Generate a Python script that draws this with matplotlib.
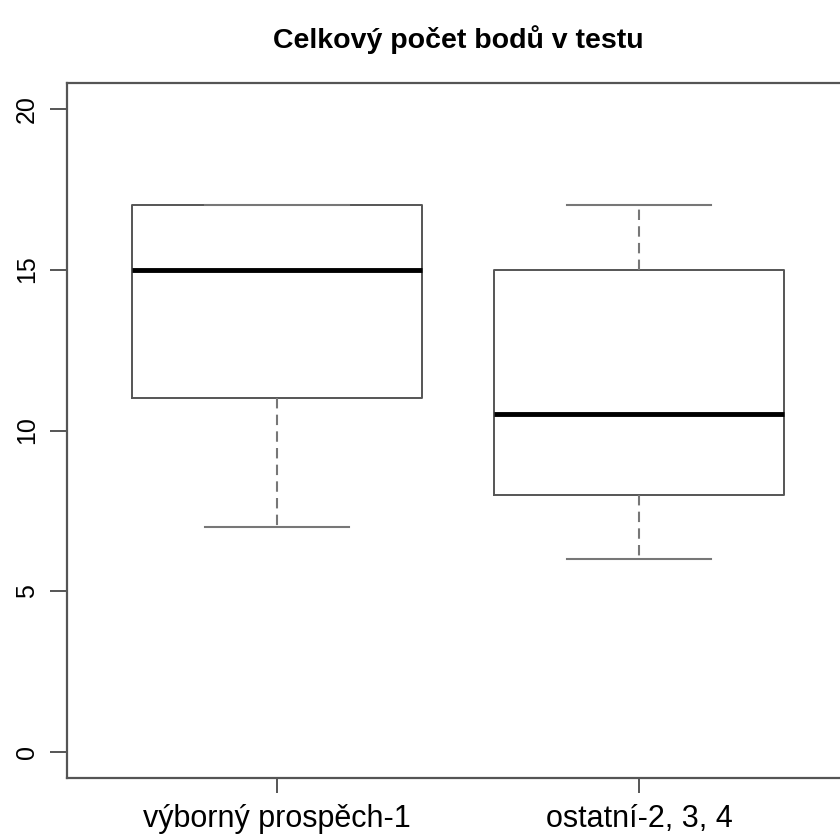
import matplotlib
matplotlib.use('Agg')
import matplotlib.pyplot as plt

plt.rcParams['font.family'] = ['Liberation Sans', 'DejaVu Sans']

# hodnoty
skupiny = ['výborný prospěch-1', 'ostatní-2, 3, 4']
dolni_vous = [7, 6]
q1 = [11, 8]
median = [15, 10.5]
q3 = [17, 15]
horni_vous = [17, 17]
y_ticks = [0, 5, 10, 15, 20]

stats = []
for i, nazev in enumerate(skupiny):
    stats.append({'label': nazev, 'whislo': dolni_vous[i], 'q1': q1[i],
                  'med': median[i], 'q3': q3[i], 'whishi': horni_vous[i],
                  'fliers': []})

fig = plt.figure(figsize=(8.4, 8.34), dpi=100)
ax = fig.add_axes([67 / 840, 56 / 834, 782 / 840, 695 / 834])

seda = '#555555'
svetla = '#777777'
ax.bxp(stats, positions=[1, 2], widths=0.8, showfliers=False,
       boxprops=dict(color=seda, linewidth=1.4),
       medianprops=dict(color='black', linewidth=3.5, solid_capstyle='butt'),
       whiskerprops=dict(color=svetla, linewidth=1.5, linestyle=(0, (5, 3))),
       capprops=dict(color=svetla, linewidth=1.5), capwidths=0.4)

ax.set_xlim(0.42, 2.58)
ax.set_ylim(-0.8, 20.8)
ax.set_yticks(y_ticks)
ax.set_yticklabels([str(v) for v in y_ticks], rotation=90, va='center',
                   fontsize=18)
ax.set_xticks([1, 2])
ax.set_xticklabels(skupiny, fontsize=22)
ax.tick_params(axis='y', length=12, width=1.4, color=seda, pad=8)
ax.tick_params(axis='x', length=11, width=1.4, color=seda, pad=8)
for s in ax.spines.values():
    s.set_color(seda)
    s.set_linewidth(1.6)

fig.text(458 / 840, 1 - 40 / 834, 'Celkový počet bodů v testu',
         ha='center', va='center', fontsize=20.5, fontweight='bold')

fig.savefig('out.png', dpi=100)
